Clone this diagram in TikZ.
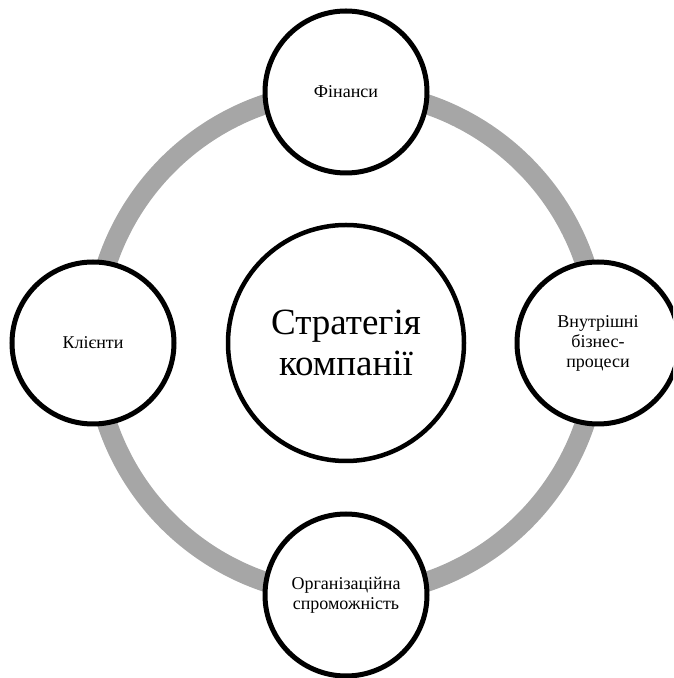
\documentclass[tikz,border=0pt]{standalone}
\usepackage{fontspec}
\setmainfont{LiberationSerif}[Extension=.ttf,UprightFont=*-Regular,BoldFont=*-Bold]
\definecolor{ringgray}{HTML}{A6A6A6}
\begin{document}
\begin{tikzpicture}[x=1pt,y=1pt,
  outer/.style={circle,draw=black,line width=5pt,fill=white,minimum size=162pt,inner sep=0pt,align=center,font=\rmfamily\fontsize{18}{20}\selectfont},
  inner/.style={circle,draw=black,line width=4.5pt,fill=white,minimum size=236pt,inner sep=0pt,align=center,font=\rmfamily\fontsize{37}{41}\selectfont}]
\useasboundingbox (0,0) rectangle (673,678);
\clip (0,0) rectangle (673,678);
\coordinate (c) at (346,335);
\draw[ringgray,line width=20pt] (c) circle[radius=252];
\node[inner] (center) at (c) {Стратегія\\компанії};
\node[outer] (top) at (346,586) {Фінанси};
\node[outer] (right) at (598,335) {Внутрішні\\бізнес-\\процеси};
\node[outer] (bottom) at (346,83) {Організаційна\\спроможність};
\node[outer] (left) at (93,335) {Клієнти};
\end{tikzpicture}
\end{document}
